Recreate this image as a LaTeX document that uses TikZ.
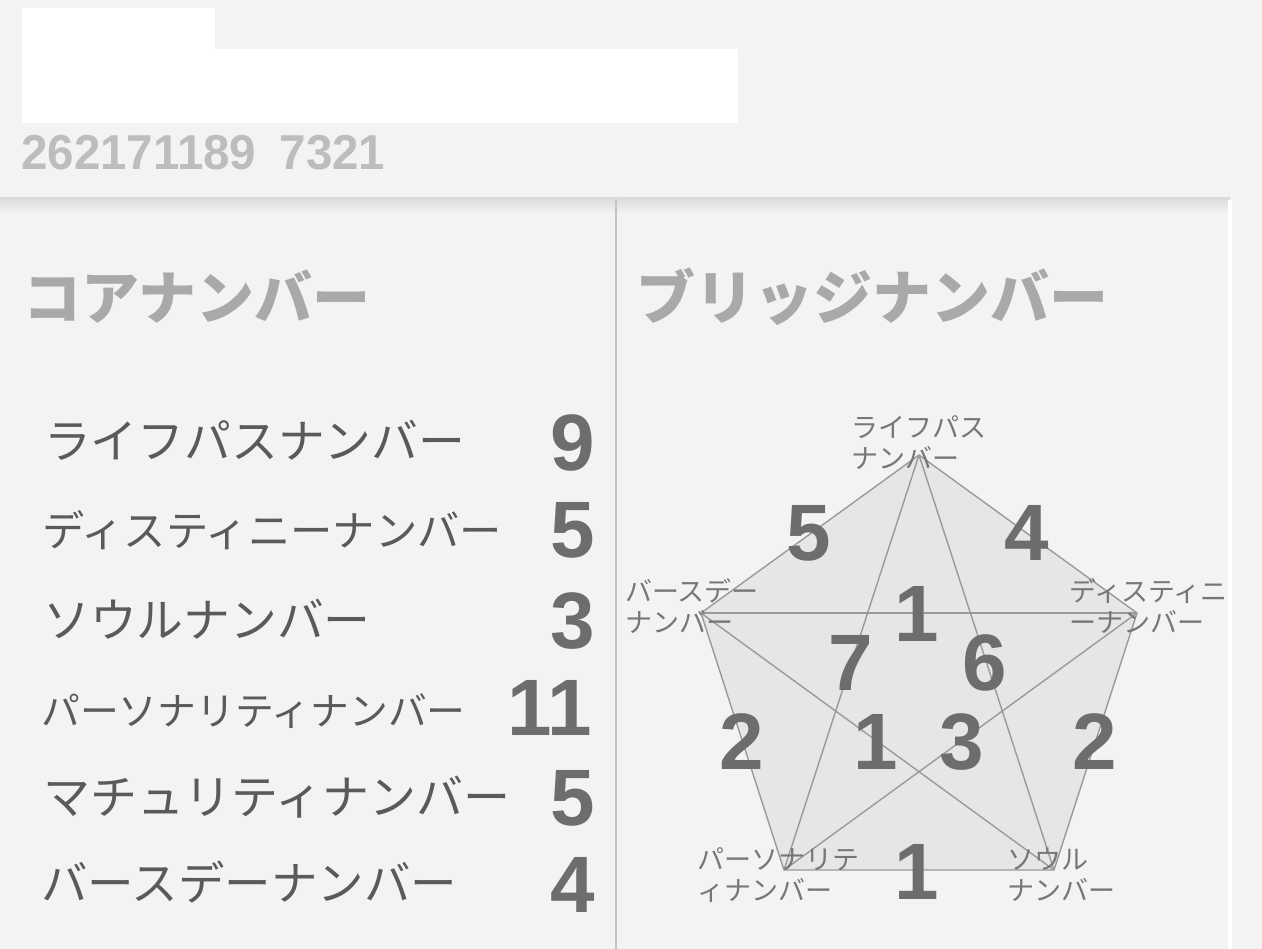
\documentclass[tikz,border=0pt]{standalone}
\usepackage{fontspec}
\setmainfont{Liberation Sans}
\newfontfamily\jp{Noto Sans CJK JP}
\definecolor{bg}{HTML}{F3F3F2}
\definecolor{numc}{HTML}{6D6D6D}
\definecolor{listc}{HTML}{5A5A5A}
\definecolor{headc}{HTML}{A9A9A9}
\definecolor{topc}{HTML}{BDBDBD}
\definecolor{labc}{HTML}{777777}
\definecolor{pfill}{HTML}{E6E6E6}
\definecolor{pline}{HTML}{9A9A9A}
\definecolor{divc}{HTML}{C2C2C2}
\tikzset{
  listtxt/.style={anchor=west, inner sep=0pt, text=listc, font=\jp\fontsize{#1}{#1}\selectfont},
  listnum/.style={anchor=east, inner sep=0pt, text=numc, font=\bfseries\fontsize{80}{80}\selectfont},
  headtxt/.style={anchor=west, inner sep=0pt, text=headc, font=\jp\bfseries\fontsize{#1}{#1}\selectfont},
  bignum/.style={inner sep=0pt, text=numc, font=\bfseries\fontsize{80}{80}\selectfont},
  vlab/.style={anchor=west, inner sep=0pt, align=left, text=labc, font=\jp\fontsize{27}{31}\selectfont},
  pedge/.style={draw=pline, line width=1.4pt},
}
\begin{document}
\begin{tikzpicture}[x=1pt,y=-1pt]
\useasboundingbox (0,0) rectangle (1262,949);
\fill[bg] (0,0) rectangle (1262,949);
% header
\fill[white] (22,8) rectangle (215,50);
\fill[white] (22,49) rectangle (738,123);
\node[anchor=west, inner sep=0pt, text=topc, font=\bfseries\fontsize{49}{49}\selectfont, xscale=0.97] (code) at (21,153) {262171189\hspace{24pt}7321};
\shade[top color=black!14, bottom color=bg] (0,198) rectangle (1230,214);
\fill[white] (1228,200) rectangle (1232,949);
\draw[divc, line width=1.2pt] (616,200) -- (616,949);
% headings
\node[headtxt=58] (h1) at (23,297) {コアナンバー};
\node[headtxt=59] (h2) at (636,297) {ブリッジナンバー};
% list
\node[listtxt=46.8] (l1) at (44,440) {ライフパスナンバー};
\node[listtxt=42.3] (l2) at (42,530) {ディスティニーナンバー};
\node[listtxt=46.8] (l3) at (43,619) {ソウルナンバー};
\node[listtxt=38.8] (l4) at (41,711) {パーソナリティナンバー};
\node[listtxt=47] (l5) at (43,797) {マチュリティナンバー};
\node[listtxt=46.5] (l6) at (41,882) {バースデーナンバー};
\node[listnum] (n1) at (595,443) {9};
\node[listnum] (n2) at (595,530) {5};
\node[listnum] (n3) at (595,621) {3};
\node[listnum] (n4) at (592,708) {11};
\node[listnum] (n5) at (595,798) {5};
\node[listnum] (n6) at (595,885) {4};
% pentagon
\coordinate (vT) at (919,455);
\coordinate (vR) at (1137,613);
\coordinate (vBR) at (1054,870);
\coordinate (vBL) at (784,870);
\coordinate (vL) at (701,613);
\filldraw[fill=pfill, draw=pline, line width=1.4pt, line join=round] (vT) -- (vR) -- (vBR) -- (vBL) -- (vL) -- cycle;
\draw[pedge] (vT) -- (vBL);
\draw[pedge] (vT) -- (vBR);
\draw[pedge] (vL) -- (vR);
\draw[pedge] (vL) -- (vBR);
\draw[pedge] (vR) -- (vBL);
% vertex labels
\node[vlab] (tT) at (851,443) {ライフパス\\ナンバー};
\node[vlab] (tL) at (625,606) {バースデー\\ナンバー};
\node[vlab] (tR) at (1069,606) {ディスティニ\\ーナンバー};
\node[vlab] (tBL) at (697,875) {パーソナリテ\\ィナンバー};
\node[vlab] (tBR) at (1007,875) {ソウル\\ナンバー};
% numbers in pentagon
\node[bignum] (b1) at (809,533) {5};
\node[bignum] (b2) at (1027,533) {4};
\node[bignum] (b3) at (917,614) {1};
\node[bignum] (b4) at (851,663) {7};
\node[bignum] (b5) at (985,663) {6};
\node[bignum] (b6) at (742,742) {2};
\node[bignum] (b7) at (876,742) {1};
\node[bignum] (b8) at (962,742) {3};
\node[bignum] (b9) at (1095,742) {2};
\node[bignum] (b10) at (917,872) {1};
\end{tikzpicture}
\end{document}
